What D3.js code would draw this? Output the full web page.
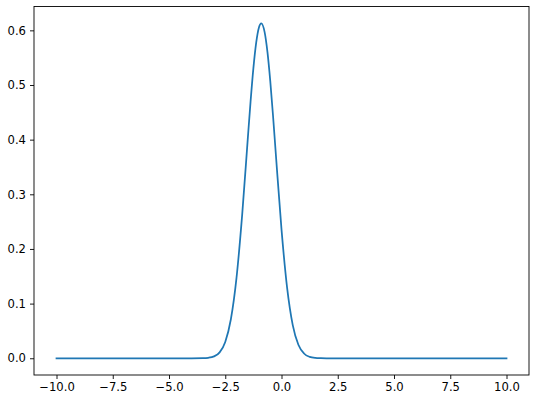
<!DOCTYPE html>
<html>
<head>
<meta charset="utf-8">
<script src="https://cdn.jsdelivr.net/npm/d3@7"></script>
<style>
  body { margin: 0; background: #fff; }
  svg text { font-family: "DejaVu Sans", sans-serif; font-size: 11.6px; fill: #000; }
</style>
</head>
<body>
<div id="chart-container"></div>
<script>
// values
var xValues = [-10, -7.5, -5, -4, -3.5, -3.25, -3, -2.75, -2.5, -2.25, -2, -1.75, -1.5, -1.375, -1.25, -1.125, -1, -0.9,
               -0.75, -0.625, -0.5, -0.375, -0.25, 0, 0.25, 0.5, 0.75, 1, 1.25, 1.5, 1.75, 2, 3, 5, 7.5, 10];
var yValues = [0, 0, 0, 0, 0.0002, 0.0009, 0.0034, 0.0108, 0.0299, 0.0714, 0.1471, 0.2614, 0.4009, 0.4697, 0.5305, 0.5775, 0.6058, 0.613,
               0.5969, 0.5607, 0.5076, 0.4428, 0.3724, 0.2358, 0.1288, 0.0607, 0.0247, 0.0087, 0.0026, 0.0007, 0.0002, 0, 0, 0, 0, 0];
var xTicks = [-10, -7.5, -5, -2.5, 0, 2.5, 5, 7.5, 10];
var yTicks = [0, 0.1, 0.2, 0.3, 0.4, 0.5, 0.6];

var W = 536, H = 404;
var margin = { top: 6.5, right: 7, bottom: 29, left: 34 };
var width = W - margin.left - margin.right;
var height = H - margin.top - margin.bottom;

var svg = d3.select("#chart-container").append("svg")
  .attr("width", W)
  .attr("height", H);

var g = svg.append("g")
  .attr("transform", "translate(" + margin.left + "," + margin.top + ")");

// 5% padding like matplotlib autoscale
var xPad = (d3.max(xValues) - d3.min(xValues)) * 0.05;
var yMax = d3.max(yValues);
var yPad = yMax * 0.05;

var x = d3.scaleLinear()
  .domain([d3.min(xValues) - xPad, d3.max(xValues) + xPad])
  .range([0, width]);
var y = d3.scaleLinear()
  .domain([0 - yPad, yMax + yPad])
  .range([height, 0]);

var fmt = function(d) { return d3.format(".1f")(d).replace("-", "\u2212"); };

var xAxis = d3.axisBottom(x).tickValues(xTicks).tickSize(4).tickPadding(4).tickFormat(fmt);
var yAxis = d3.axisLeft(y).tickValues(yTicks).tickSize(4).tickPadding(4).tickFormat(fmt);

var points = xValues.map(function(d, i) { return [d, yValues[i]]; });

var line = d3.line()
  .x(function(d) { return x(d[0]); })
  .y(function(d) { return y(d[1]); })
  .curve(d3.curveMonotoneX);

g.append("path")
  .datum(points)
  .attr("fill", "none")
  .attr("stroke", "#1f77b4")
  .attr("stroke-width", 1.75)
  .attr("stroke-linejoin", "round")
  .attr("stroke-linecap", "square")
  .attr("d", line);

g.append("g")
  .attr("transform", "translate(0," + height + ")")
  .call(xAxis)
  .call(function(a) { a.select(".domain").remove(); a.selectAll("text").attr("font-size", null); a.selectAll("line").attr("stroke-width", 0.9); });

g.append("g")
  .call(yAxis)
  .call(function(a) { a.select(".domain").remove(); a.selectAll("text").attr("font-size", null); a.selectAll("line").attr("stroke-width", 0.9); });

// frame
g.append("rect")
  .attr("x", 0).attr("y", 0)
  .attr("width", width).attr("height", height)
  .attr("fill", "none")
  .attr("stroke", "#000")
  .attr("stroke-width", 0.9);

svg.selectAll(".tick text").attr("font-family", null);
</script>
</body>
</html>
